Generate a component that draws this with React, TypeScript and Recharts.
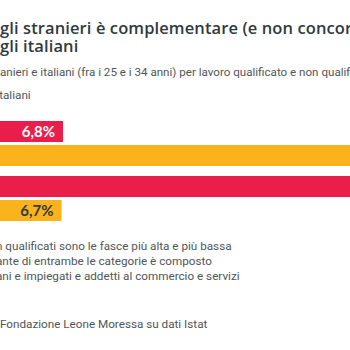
import React from "react";
import { Bar, BarChart, LabelList, XAxis, YAxis } from "recharts";

// rows: qualified / unqualified jobs, two series each
const categories = ["Qualificati", "Non qualificati"];
const stranieri = [6.8, 33.5];
const italiani = [36.4, 6.7];

const titleLines = [
  "gli stranieri è complementare (e non concorrenziale)",
  "gli italiani",
];
const subtitle =
  "anieri e italiani (fra i 25 e i 34 anni) per lavoro qualificato e non qualificato";
const legendText = "Italiani";
const noteLines = [
  "n qualificati sono le fasce più alta e più bassa",
  "ante di entrambe le categorie è composto",
  "ani e impiegati e addetti al commercio e servizi",
];
const sourceText = "Fondazione Leone Moressa su dati Istat";

const RED = "#ea1e4b";
const YELLOW = "#fbb31d";
const INK = "#2f3b3d";
const GREY = "#4f5658";

const data = categories.map((c, i) => ({
  category: c,
  stranieri: stranieri[i],
  italiani: italiani[i],
}));

const pct = (v: any) => `${Number(v).toFixed(1).replace(".", ",")}%`;

const line = (top: number, extra: React.CSSProperties): React.CSSProperties => ({
  position: "absolute",
  top,
  whiteSpace: "nowrap",
  ...extra,
});

export default function App() {
  const titleFont: React.CSSProperties = {
    fontFamily: "'Open Sans', sans-serif",
    fontWeight: 600,
    fontSize: 16.5,
    letterSpacing: 0.1,
    lineHeight: "17px",
    color: INK,
    left: 0,
  };
  const bodyFont: React.CSSProperties = {
    fontFamily: "Roboto, sans-serif",
    fontSize: 11.7,
    lineHeight: "15px",
    color: GREY,
  };

  return (
    <div
      style={{
        position: "absolute",
        left: 0,
        top: 0,
        width: 350,
        height: 350,
        overflow: "hidden",
        background: "#fff",
      }}
    >
      <div style={line(19, titleFont)}>{titleLines[0]}</div>
      <div style={line(37, titleFont)}>{titleLines[1]}</div>

      <div style={line(65, { ...bodyFont, fontSize: 11.6, left: 0 })}>{subtitle}</div>
      <div style={line(88, { ...bodyFont, left: -4 })}>{legendText}</div>

      <div style={{ position: "absolute", left: -40, top: 116 }}>
        <BarChart
          width={700}
          height={110}
          data={data}
          layout="vertical"
          margin={{ top: 0, right: 0, bottom: 0, left: 0 }}
          barSize={21}
          barGap={3}
        >
          <XAxis type="number" domain={[0, 46.2]} hide />
          <YAxis type="category" dataKey="category" hide />
          <Bar dataKey="stranieri" fill={RED} isAnimationActive={false}>
            <LabelList
              dataKey="stranieri"
              position="insideRight"
              offset={8}
              formatter={pct}
              fill="#fff"
              style={{ fontFamily: "Lato, sans-serif", fontWeight: 700, fontSize: 15 }}
            />
          </Bar>
          <Bar dataKey="italiani" fill={YELLOW} isAnimationActive={false}>
            <LabelList
              dataKey="italiani"
              position="insideRight"
              offset={8}
              formatter={pct}
              fill={INK}
              style={{ fontFamily: "Lato, sans-serif", fontWeight: 700, fontSize: 15 }}
            />
          </Bar>
        </BarChart>
      </div>

      {noteLines.map((t, i) => (
        <div key={i} style={line(239 + i * 15, { ...bodyFont, left: -4 })}>
          {t}
        </div>
      ))}

      <div style={line(317, { ...bodyFont, left: 0 })}>{sourceText}</div>
    </div>
  );
}
